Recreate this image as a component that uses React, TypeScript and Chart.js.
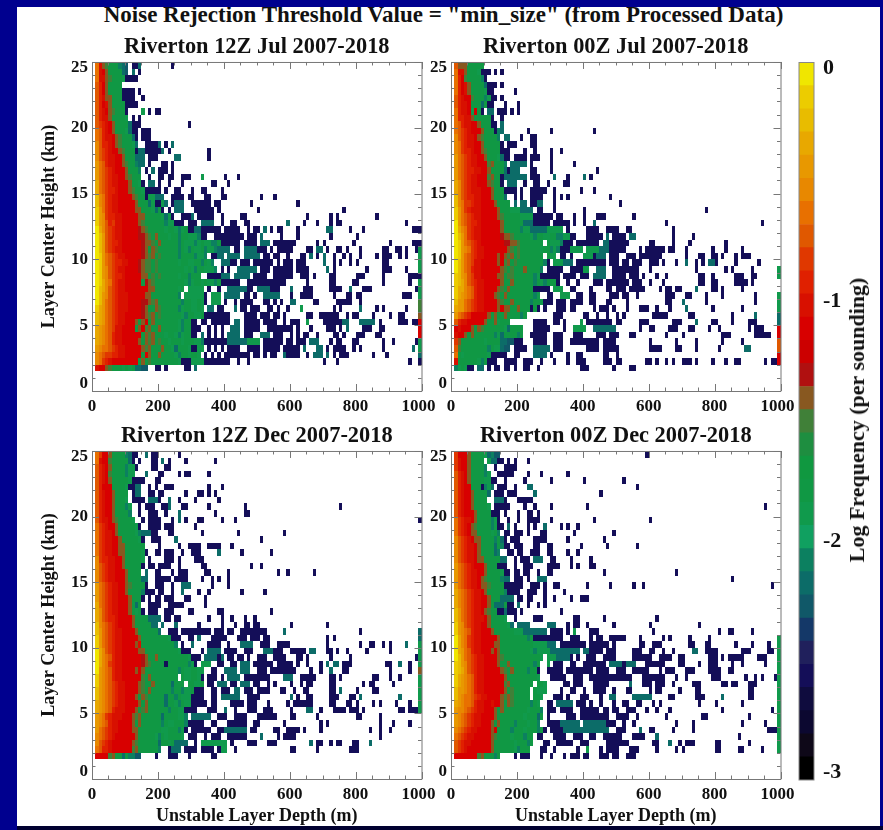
import React, { useEffect, useRef } from "react";
import { Chart, registerables } from "chart.js";

Chart.register(...registerables);

const SERIF = '"Liberation Serif", serif';
const bandColors = ["#000000","#0e0818","#0c0830","#0f0c3e","#140e58","#20205c","#143868","#105868","#0c6c68","#0c8060","#10a060","#109a4c","#109844","#109840","#1e8e40","#408038","#885820","#b01010","#cc0000","#d80000","#d81000","#e02000","#e03800","#e05800","#e87000","#e88800","#e89800","#e8a800","#e8bc00","#eccc00","#f0e600"];
const colorbarTicks = [-3, -2, -1, 0];
const panelTitles = ["Riverton 12Z Jul 2007-2018", "Riverton 00Z Jul 2007-2018", "Riverton 12Z Dec 2007-2018", "Riverton 00Z Dec 2007-2018"];

// Each row runs from the 24.5-25 km bin downward. First token: the level of bins 1, 2, 3...; further tokens: isolated bins.
const jul12z = [
"okgfccc987 12-13 14t 24","okjgcccc87 12t 14","okkgfcccb 10-13","nljgcccc","nljgcccc 9-12 14","nlkggccc 9-12 15","nljkgcccc 10-12 13","nlkjgfccc 10 15b 17 19-20","nlkkgccccb 12 14","nmlkjgcccc8 12-14 29",
"onlkjgcccb 11t 12-13 15-17","onlkkjgfccc8 13 15-17","pnllkjgfcccb 13t 16-19 20t 22 24t","pnmlkjjgfccc9 13 14-15t 16-20 21t 23 35","pnmlkkjjgccc 13-15t 17-19 25-26t 35","qonlkkjjgfcc9 14-15t 17 21-22 24","qonmlkjjjgccc9 16 18t 20-22 24","qonmlkkjjgfccc 17 20-21 23-24 27-29 33b 40 44","ronmlkkjjjgccb 15 17-18t 20 23 27 36-37 41","ronmllkjjjgfccb 16-20 22 25-26 30 33-34 39",
"spomlkkjjjjgfcc 16 17-18b 19-21t 24-27 29-30 34-35 39-40 51 55","spomlkkjjjjjgccc8b 19-20 21b 22t 24 25-27t 30-35 37-38 48 62","tqomlkkjjjjjggcccb8c 21 23 25-27t 31-36 38 50 76","tqpmllkkjjjjjggcccccb8b 24 27-29 30t 32-33 34-36 39 45-46 65 72 74 86","tqpnlmkkjjjjjgfcccccc9bb 25-27 29-31 33-36t 39 42-43 46-47 59t 64 68 72 74-75 95","urpnmlkkjjjjjhgfcccccbccb9bc 29-30 31-32t 33-38 40-44 47 49-50 52t 54 56-57 62 71-72t 78 82 97-99","usqnmlkkjjjjjhhgfcgcccbcc9ccbbb9 33-34 37-45 47-49 51t 57 62 72 80","usqnmllkjjjjjjhggfcgccccc9cbbb9bcbb99c 39-44 46-49 51-53t 55-61 68 70 79 90 97-99","usqnmlkkjjjjjjhgcgfcccccc9cb9cbbc9bb9 38-41t 43-44 46-49t 50-52 54 56-60 65-66 68-69t 71 74-75 77 81 88-89 92-93 95 98 99b","utqonmlkkjjjjjhgfgcfccccc9cccc9bb9 36-37 38-39t 41-44t 46-50t 52-53 55-56 59 63-64 66t 68 70t 73 76 78 81 86 88-90 93 95 99b",
"utqonmllkkjjjhgffcfccccccbccbbcc9cb9 39-41t 42 43 45-47 49-54 56 58-60 62-64 70t 73 75 78 80 88-89 99b","utqpnmlkkjjjjhgffcfccccccccbcb9ccbbb9 39 41 44-49t 51-53 55-56 57-60 62-65 71t 73 83 88-90 95 99b","utqpnmllkjjjjjggcfcfcccccbcc9ccc 35-38 39-41t 43-47t 49-52 55-60 63-65 67 72-73 80-82 88 96 97-98 99","utrpomlkkjjjjjchgfcccccccccb9bccbcbb9c 39 40-44 47-53 54-58 65 72-73 79-80 88 96 99b","usrpnmlkkjjjjjjjggcccccccbc 29-33b 35 38 41-46t 47-48 50-53t 54-56 60t 64-66 72-75 78t 82-84 98 99b","usqpnmlkkkjjjjjggcccccccc9 28-33b 34 36-38b 40-44t 46-47 49 52-56t 60 63-65 66 73 77-78 80-81 94-96 99b","usqonmlkkkjjjjhhgfgccccccc9ccbbcb 34 36-38b 40 43 45-48 52-53 55 57 60-61t 67-68 74-75 76-78 81 99f","trqonmlkkkjjjjhgccgfccccc9bccbbcb 35-36t 38-39 43t 45-46 48-50 53-54 56 59 63b 73 75 81t 86 88 95 99f","srqonmlkkjjjjjhgfgcfccccccb9ccbbc 34-35 36-41 46-49 51-53 55-56 58 65-66 69-74 77 79-80 85 90 93-94 99g","srqonmlkkjjjgcgjcgcccccccb9cc 30 31 33-34 36-41 43-44t 46-50 52-55 58 60-62 65b 70-75 76-77t 81-85t 87 93-95 97-98 99j",
"rqponmkkjjjjcgjfgccgcccccb9cc 30 31-32 35 37 39 42-44t 46-48 49-50 53-60 62 66 71-73 75 77t 82-84 87-88 99j","rqponlkkjjjjjjcgfgcccbccb9bcc 30-31 33t 35 37 39 41-44t 46-48 51-53t 55-57 60 62 64-65 68 73-74 76 80-82 86-87 99j","rqponlkkjjjjjgcgfgcfccbcccbcccbb9 34-35 36-40 41-46t 47-50b 52-54 55-57 59-60 62-64 66-68t 72 74-75 79-80 88 91 98 99b","qpoonmlkkjjjjjgfgcccgccb8cccb 30-31 32-33b 35 37 39 41-44 47-50 52-56 58 59-62 64t 68-69t 71 73-76 79 81 88 97t 99b","ponmmllkkjjjjjcjgccgccccb9ccbccb 34 36 38 40-47 49-50 52 54-55 58t 59-62 65 67-69t 71t 73 75-77 85 89 99t","pomlkjjjjjjjjcgcfccccccccb 27-28 29 30-33b 34-40 41 44 47 70 74 96 99","kjjgfcccbcbc8877 19-20 22 28-29 31t",
];
const jul00z = [
"ngggccccc","okkgcccb 9-11 13 15","oljfcccc9 10","oljkgcccc8 11-13 15","oljkgccccb 11-12 19","nlkjjfccc9b 12-13 15","nlkkjccc8cc 11-12 16 20","olkkjbjcc 9 11-12t 14-16 18 20","ollkkgcccccb 12 15","onlkkjjgcccc 12-13 15t",
"onmlkjjjgcccc9 13 15t 23 30 43","pnmlkkjgfcccc9 16-17t 21 24-25","pomlkkjjgcccccb 15 17-19 24-25","pomllkjjgfcccc 15 16-17 22 25 30 33","qonmlkkjjgcccb8 16-17 19-22 24-26 30","qonmlkkjjjfgccc9 18-22t 24 30 37","qonmllkkjjgcccc 16t 17 18-20t 24-25 30 44","qonmlkkjjjfgccc 15 16-19t 20-22t 24-26 31t 35 40t 42","rpnmlkkjjjgfcc 15 17-19t 22 25-26 29 34-35","rpnmlkkkjjjgccc 16-18 19 21 24-28 31 39 43",
"spnmllkkjjjgccc8 19 21 24-27 31 33 35 48","spommlkkjjjjgcccc 19t 21-22t 24-25 26-27t 31 51","tqomlkkkjjjjjgccc 18-20b 21-24t 26-27 31 40 77","tqonmlkkjjjjjgfccccc 21-24b 25-30 32-33 37 40 44-46 55","uqonmllkjjjjjjgcccccc 22-24t 25-29 31-35 37 40 43t 65 94","urpomlkkjjjjjjgccccc9bb 24-28t 29-33b 35 41-44 47-50 53-54 67","usqomlkkjjjjjjhggfcccccb9ccbbcc99bb 36-37 41-45 47t 49-52 54-55t 67 73","utqonmlkjjjjjjjhhggfccccccc.cbbb9 34-36 38-42 43-44 46-47t 48-53 60-61 67 72 83","utqpomlkkjjjjjjjgfcfccccccbcc9b9 33-35 36-39b 41-44b 45-47t 48-51 52 57 59-64 66-67 71 79 83 88","utqonmlkkjjjjgjgfgcfccccccc.cb 31b 33-34 36 40-42b 43 44-46t 48-50 53-55 57-63 71 75-76 79-80 82 86 88-90",
"usqonmkkjjjjjgjfgcfcccccccc9 29 31-33b 34-36t 38-41 42-46 48-50 52-53 55-57 60-62 64 68 71t 74 76 78-79t 80 86 93","usqonlkkjjjjjjgfcfcccgcccc9 29-33 36-39 40-41b 44-46t 49-54 55-56 60 74 83 85 91 99b","tsqpnmkkjjjjjggcffcccccc9b 27-32 34-37 39-41 43-46t 49-52 54-56 58 62 65 75-76 79 86-88 91-92 99b","tsrpnmlkkjjjjjgccgcccccc9cb9ccc 32 35 38 43-45 47-53 55-57 60 64 75-76 79-80 86-89 91","trrponlkkjjjjgfcgccccccc 25-29 31-33b 36-37 42 47-48 50-52 54-58 63 65-66 68-69 74t 79-80 82 88","trqponlkkjjjgfcgcccccccc9b 29-30 33-35b 38-39 42-43 48-50 52-53 56 65-67 71-72 77 82 92 99b","sqqonmlkkjjjjgfccgccccc9ccb 28-30 32-34 36-39 42-43 47-48 53 65-66 70t 77 92 99b","rqqonmlkkjjjjgjggccgccccc 24 26 28 32-34 36-37 43 45-47 49 53 57-59 62 66 71t 79 88 99b","qonmljjjjjgcgccgcccc9c 31-33 40-41 44 47 50 52 61-65 72-73 85 92t 99t","nlkkjjjjjgccgbccc 25-28 31-32 34 39b 41-48 50-51 57 58-59 67-69 74t 79-80 85 90-92 99t",
"jkjjjgcgfccccccb8cccc 25-29 34 37-40b 43-49t 57 60-61 66-68 72-73 78 81 90 92-94 99j","kjjgcgcccccc9b8cccc9c 24-28 31-33 37-39 44-46 48-50 54-55 65 70 82-84 92-96 99j","mgcccccccbcccc8877 19-21 25-28 31-33 36-44 46-49 60 68 74 82 88 99n","nfcccccccc9cbb877 19 20-22 25-29t 31-33 41-44 46-49 50 60-63 68-69 74 81 89-90t 99n","ocbcccccccb8 12-16 19-20 25-28t 30 35 38-39 46-47 50 99j","kccccccb9c 11-13 16-19 22-24 27 31 35 38-40 46-48 50-51 59-60 62 65 67 70-72 74 79 83 86-87 95 97-98 99j","9bcb 5-6 8-9t 11 13-14 16-17 19 22-23 26 39-41 49 54-55",
];
const dec12z = [
"omjjgcccc98 12-13 16t 18-19 26","okjjfccccc8 12 14 18-19 21t 23 28 37","nlkjgcccc9bb 13 18-19 22-23","nlkjfcccc9bb 16t 20-21 26 28-29 35","nlkjgcccccb 12-15 19-20","nljjjccccb 11 12 13-14t 17 19 22-24 35 39","nlkjjgcccc 12 13-14t 17-18 20-21 28 32-33 35 37","nlkjjgcccb 12-15 17-19t 20 23t 26 31 38","nlkjjgccc9b 14 16-18 21-22 23t 27-28 35 46 75","nlkjjgcccc9 14 17-19 22 26t 37 46-47",
"nlkkjgfccccb 15 17-20 24 26t 28 32-33 39 43 99","omlkjjgcccccb 14 17-20 22-24 31","omlkkjgcccccb9 15-17t 18-19 23-24 33 44 58","omlkkjjgcccccb 15 18-20 25t 51","omlkkjjggcccccc 20 26 29-32 35-38 42","omlkkjjggcccccb 16 19-20 22-24 27 30-32 38t 45 54","pmllkkjjgcccccb 17 22-24 26 31-33","pnmlkkjjgccccc 15 17-18 20-23 26 33-34 48 51","pnmlkkjjjgcccc 16t 19-20 24 26-28 34-35 41 56 59 67","pnmlkkjjjgcccc 15-16t 19-23 25-28 33 36 38 41",
"qonmlkkjjgfcccc 16 19-21 24 27-29t 36 41","qonmlkkjjgcccc9 16-18 20-21 24 27t 32 35 45 52","qonmlkkjjjgccc 15 17 19-20 22-24 28-29 34","ronmlkkjjjgccc 13t 17-20 23-27 34","rpnmlkkjjjgcbc 15 17-19 22-24 29-30 38-39 54","rpnmllkjjjjgcccc 17-20t 22-23 25-26 35 39 42 46 49","sponmlkjjjjgccccc 18-19t 21t 25t 32 39 43 46-47 49-50 60 71","sqonmlkkjjjjgcccccc 20t 23-25 27-34 35 37-39 41-42 45-50 51-52 58t 81 99t","tqonmlkkjjjjjgccccccccb 24-26 29-30 32t 36-40 44-46 48-50 52-53 71 73 99t","tqonmlkkjjjjgkcccccccccc9 27 30t 35-38 41 45-48t 51-53 56-59 71 81 84-85 88 90 95t 99b",
"urpnmlkkjjjjjggccccccccccb 27-29 33 35-38t 40-43 46-48 52-54t 55-57 60-64 66-67t 71-72 74 77 83 90 99b","urponlkkjjjjjjhgccgcccccccccb 30-32 34-37t 38 39t 41-42 44-45 47 50-52 55-58 62-63 65 72 78 98 99b","urpomlkkjjjjjjhgfcccc4cccccc9b 31 33-35b 38-39 42-43 45-47t 49-54 56-60 62 65 69 71t 73-74t 76-78 89-90 93t 96 99b","uqponlkkjjjjgjgcccccccccc9cbbcc 32-33b 36-37 40-43t 45-47t 50-52 54-61 66 69 72t 76-77 90 96 99g","tqponlkkjjjjjjfcgcccccccc.cbbccb 33 35-37 39 41-44t 46-49 50-53 58-60t 63-67 72-73 75 85-86 90 93 99b","tqponmlkkjjjjgfccgccccc8ccc.ccbbc 35-36 38-40t 42-43 45-47t 49-50 53 55 60 63 65-66 72-73 82 84-85 91 99b","sqponmlkkjjjjgfcgcccccc9cc9bbc 31-33 36-37 39-41 43-44t 46-48 50-53 57-58 61 64-65 72-73 75t 80 85-86 99b","sqponmlkkjjjgcgfccccc8cc9cbbb 30-33 36-37 39-41t 42-44t 47-50 60t 62 65-66 72-74 78-79 81t 93t 99b","rqponmlkkjjjjgcgccccc8ccb9cbb 30-34 36-37 42-45 47-49 53 59 61-66 72-73 77-78 80 85 87 92 96 99b","rqponlkkkjjjgcfgcccccc9ccbb 28 29-31 35-37 40t 43 47-49 52-54 60 65-66t 69 73-76 78-80 82 93-94 96-98 99b",
"qpomlkkkjjjgfgcccccc8ccccbb9 30-35t 38-40 43-46 50-55 60-61 68 80-81 87","qponlkkjjjjgcgcccccc9cbbccc9 29 30-33 36-37 41-46 49-50 58 69 71 87 91 96","qonmlkkjjjjggcccccccbbccc9b 28 30-35 38-39 40-46t 48-49 55-56 59-62 64 69 84 87 90","ponmlkjjjjjjgcccccb9cbccccb 29-31 34 36-38 41-46 51t 56 58-61 87","pnmlkjjjjjjgfcccccc8ccbc 25-28t 31 33-40b 42 47-49 53-55 66t 68-69 72 74-75 79-80 84t","onllkjjjjjjfgcccccc9 23 24-26t 28-31 33-36 38 39-40b 43 60-61 68 78-80","jjjjfgcc8c9977 19 23-25 29 36-37",
];
const dec00z = [
"mjjjgccccb8977 59","mkjjgcccc.b8 13t 14-15 17 19 23","mkjjgcccc9 13 16-19","nlkjgcccc9b 14-15 16-18 23 27 35","nlkjgccccbb 12-13 16 22 30 40 52","nlkjjcccc9b 9 12t 14-16 19 23-24t 56","nlkjjgcccc 11t 13-15 17-19 25t 45","nlkjjgcccc 13-15t 16 20-24","nlkjjgccccb 13-14 15-17 22 25 30 41 95","nlkjjjgcccc9 12-14 16 20 23-24 26",
"omlkkjgcccc9b8 14 17 20 23-26 30 43 60","omlkjgfcccc9b 14-15 17t 19 23 25 28t 33 35 38","omlkjggccccbc9 16-17 19-21 23 27-28 37 49","pnmlkjggcccc9c8 16 18-20 25-28 35 46","pnmlkkjgcccc8c9 16-17 19-21 25-26 29-30 39 47 56","pnmlkkjgccccc9 13t 17-18 20-21 24-26 29-30 35 38","pnmlkkjggccccc9 15-16t 19 21-23 25-27t 30-31 36 42","qonmlkjjjgcccc8 14-16 19 22-24 29-32 36 38 42-43","qonmlkkjjgccccb 16-17 19-20 22-23 26 29-30 46 68","qonmlkkjgfcccc9 16-17t 19-21 23 26-28t 85",
"qonmlkkjggfcccc8 16-18 19-21 24-26 28 31-32 41 48 55 58 97","rponmlkkjgccccc9 17-20 23-25 28 34","rponmlkkjjgcccc9 15-18t 20-21 23-24 28 31 36 39-41","rponmlkkjjgccc9c8 13-15t 17-18 20t 23 26 28","sqonmlkkjgfcccb8 14-15 17-19 21 33","sqonmlkkkjgccccb 19 25-27 37-38 46 62","tqpnmlkkjjgcccccb8 20-23t 29-31t 35 37-38 41 49 60 75","tqponlkkjjjgccccccbbb 22-28t 30-33 35 37b 42-44 61 81 84-85 91","urpomlkkjjjjjgcccccccc9c 25-26 27-33 36-38 42 44-45 48-52 57 64 66 72 78 99b","urpomlkkjjjjggcccccccccc 25-28b 29-31t 33-38 39-40 42-47 49 57-58 61-63 72-73 77-78 86 91 96 99b",
"urqonlkkjjjgjgcccccccccb9 26-29b 30-33t 34-38t 40-41t 42-45 47-49 55-57 60-61 64 67 73-74t 77-80 88-90 96-97 99b","usqonmlkkjjjjgfcccccccccccb 29-31b 32-35t 36 38 41-43 46-49 55-60 63-66 69-70 78-80 82 84-88 93-95 99b","tsqpnmlkkjjjjgccgccccccc9c 29b 31-33 36-37 40-46 48-51t 52 53-55t 59-64 69-70 75 78-80 85 88 95 99b","tsrpnmlkkjjjjjgfcgcccc9ccc 26 29-33 35-42 44-47 50-52 55-59 63 65-67 71-73 78-81 84-85 99b","trqponlkkjjjjjjgcccccccccb 30-34 37-39 42-52 53-54 58-64 68 71 79-81 89 92 94 98 99b","trqponlkkjjjjjjfgccccccc.ccb 34-35 37-39 43-47 54t 58-60 62-64 67 73-75 82-83 85-86 90-92 99b","sqqponlkkjjjjjjgcfccccc.cbbb 33 36-37 40 43-46 49 53-54 60 62-63 69 74-75 90-91 99b","sqpoonmlkkjjjjgfgfccccc.ccb 31-33 35 39-41 45 48-49t 55-60t 66-67 74-76 82t 90-91 99b","rqpoonlkkjjkjjgcgfccccc9cb 29-30 32-36t 38-40 42 45 49 52-53 56-57 61 63 75 80 88 99b","qpponmlkkjjjgcgcccccccbccc9 29-31 33-36 39-44 46-47 49-50 53-55 59 62 66 82 97 99b",
"qponmlkkjjjjgccccccccbccc8c 29 35-37 39-47 50-53 56 65 76-77 90 99b","qponmlkkjjjgcgcccc9cccbcc9 29-32 33-38t 40-46t 47-49 52 55 68 73 88 95 99b","ponmlkkjjjjgjcccc9cccbccc9c 28 30-33 34-37t 38-47t 50-52 57t 60-61 67 73 96-98 99b","onmlkkjjjjjgfccccbccc9cc 26-27 31-34 37-39 42-43 46-51 55-58 62t 87 99b","nmlkkjjjjjjgccccccbccc9c 28-29 32-36 39-41 47-53 61-62 66t 69 71-73 80-81 90 99b","nmlkjjjjjjjgccccccb9ccc 27-28 31 38 41b 45 47-50 54-56 62 68 70 80-81 87-88 94 99b","jjjjjjjfgccc9c 19 21-23 27 30 34 36-38 40-41 45-47 49-50 53-55",
];
const panelRows = [jul12z, jul00z, dec12z, dec00z];

const levelToLog = (lvl: number) => -3 + ((lvl + 0.5) * 3) / 31;
const logToLevel = (v: number) => Math.min(30, Math.max(0, Math.floor(((v + 3) * 31) / 3)));

function decode(rows: string[]) {
  const pts: { x: number; y: number; v: number }[] = [];
  rows.forEach((row, k) => {
    const cells = new Map<number, number>();
    const [prefix, ...tokens] = row.split(" ");
    [...prefix].forEach((ch, i) => {
      if (ch !== ".") cells.set(i + 1, parseInt(ch, 31));
    });
    tokens.forEach((tok) => {
      const m = tok.match(/^(\d+)(?:-(\d+))?([a-z]?)$/);
      if (!m) return;
      const a = +m[1];
      const b = m[2] ? +m[2] : a;
      const lvl = m[3] === "t" ? 8 : m[3] ? parseInt(m[3], 31) : 4;
      for (let c = a; c <= b; c++) cells.set(c, lvl);
    });
    cells.forEach((lvl, c) => pts.push({ x: c * 10 + 5, y: 24.75 - k * 0.5, v: levelToLog(lvl) }));
  });
  return pts;
}

const boldFont = (size: number) => ({ family: SERIF, size, weight: "bold" as const });

const shift = (scale: any, label: string, dx: number, dy: number) => {
  for (const it of scale.getLabelItems()) {
    if (it.label === label) {
      it.options.translation = [it.options.translation[0] + dx, it.options.translation[1] + dy];
    }
  }
};

const heatPlugin = {
  id: "heat",
  beforeDatasetsDraw(chart: any) {
    const { ctx, scales } = chart;
    const { x, y } = scales;
    for (const p of chart.data.datasets[0].data) {
      const x0 = Math.round(x.getPixelForValue(p.x - 5));
      const x1 = Math.round(x.getPixelForValue(p.x + 5));
      const y0 = Math.round(y.getPixelForValue(p.y + 0.25));
      const y1 = Math.round(y.getPixelForValue(p.y - 0.25));
      ctx.fillStyle = bandColors[logToLevel(p.v)];
      ctx.fillRect(x0, y0, x1 - x0, y1 - y0);
    }
  },
};

const framePlugin = {
  id: "frame",
  beforeDraw(chart: any) {
    shift(chart.scales.y, "25", 0, 6);
    shift(chart.scales.y, "0", 0, -7);
    shift(chart.scales.x, "1000", -3, 0);
  },
  afterDraw(chart: any) {
    const { ctx, chartArea: a, scales } = chart;
    ctx.save();
    ctx.strokeStyle = "#777777";
    ctx.lineWidth = 1;
    ctx.beginPath();
    for (const t of scales.y.ticks) {
      const py = Math.round(scales.y.getPixelForValue(t.value)) + 0.5;
      const len = t.value % 5 === 0 ? 7 : 3.5;
      ctx.moveTo(a.left, py); ctx.lineTo(a.left + len, py);
      ctx.moveTo(a.right, py); ctx.lineTo(a.right - len, py);
    }
    for (const t of scales.x.ticks) {
      const px = Math.round(scales.x.getPixelForValue(t.value)) + 0.5;
      const len = t.value % 200 === 0 ? 7 : 3.5;
      ctx.moveTo(px, a.bottom); ctx.lineTo(px, a.bottom - len);
      ctx.moveTo(px, a.top); ctx.lineTo(px, a.top + len);
    }
    ctx.rect(a.left + 0.5, a.top + 0.5, a.right - a.left, a.bottom - a.top);
    ctx.stroke();
    ctx.restore();
  },
};

const barPlugin = {
  id: "barFrame",
  beforeDraw(chart: any) {
    shift(chart.scales.y, "0", 0, 6);
    shift(chart.scales.y, "-3", 0, -8);
  },
  afterDraw(chart: any) {
    const { ctx, chartArea: a } = chart;
    ctx.save();
    ctx.strokeStyle = "#888888";
    ctx.strokeRect(a.left, a.top, a.right - a.left, a.bottom - a.top);
    ctx.restore();
  },
};

const geometry = [
  { left: 20, top: 30, h: 411, plotH: 329, yTitle: true, xTitle: false },
  { left: 379, top: 30, h: 411, plotH: 329, yTitle: false, xTitle: false },
  { left: 20, top: 419, h: 410, plotH: 328, yTitle: true, xTitle: true },
  { left: 379, top: 419, h: 410, plotH: 328, yTitle: false, xTitle: true },
];

export default function App() {
  const refs = useRef<(HTMLCanvasElement | null)[]>([]);
  const barRef = useRef<HTMLCanvasElement | null>(null);

  useEffect(() => {
    document.body.style.margin = "0";
    const charts: Chart[] = [];
    panelRows.forEach((rows, idx) => {
      const g = geometry[idx];
      charts.push(
        new Chart(refs.current[idx]!, {
          type: "scatter",
          data: { datasets: [{ data: decode(rows), pointRadius: 0, showLine: false }] },
          plugins: [heatPlugin, framePlugin],
          options: {
            responsive: false,
            animation: false,
            events: [],
            layout: { padding: { left: 0, right: 25.5, top: 0, bottom: 0 } },
            plugins: {
              legend: { display: false },
              tooltip: { enabled: false },
              title: {
                display: true,
                text: panelTitles[idx],
                fullSize: false,
                color: "#111111",
                font: boldFont(22.4),
                padding: { top: 3.5, bottom: 1.6 },
              },
            },
            scales: {
              x: {
                type: "linear",
                min: 0,
                max: 1000,
                grid: { display: false, drawTicks: false },
                border: { display: false },
                ticks: {
                  stepSize: 50,
                  autoSkip: false,
                  maxRotation: 0,
                  padding: 5,
                  color: "#111111",
                  font: boldFont(17),
                  callback: (v: any) => (v % 200 === 0 ? String(v) : ""),
                },
                title: {
                  display: g.xTitle,
                  text: "Unstable Layer Depth (m)",
                  color: "#111111",
                  font: boldFont(18),
                  padding: { top: 0, bottom: 2 },
                },
                afterFit: (s: any) => { s.height = g.h - 32 - g.plotH; },
              },
              y: {
                type: "linear",
                min: 0,
                max: 25,
                grid: { display: false, drawTicks: false },
                border: { display: false },
                ticks: {
                  stepSize: 1,
                  autoSkip: false,
                  padding: 4,
                  color: "#111111",
                  font: boldFont(17),
                  callback: (v: any) => (v % 5 === 0 ? String(v) : ""),
                },
                title: {
                  display: g.yTitle,
                  text: "Layer Center Height (km)",
                  color: "#111111",
                  font: boldFont(18.2),
                  padding: { top: 18, bottom: 0 },
                },
                afterFit: (s: any) => { s.width = 72; },
              },
            },
          } as any,
        })
      );
    });

    charts.push(
      new Chart(barRef.current!, {
        type: "bar",
        data: {
          labels: [""],
          datasets: bandColors.map((c, i) => ({
            data: [[-3 + (i * 3) / 31, -3 + ((i + 1) * 3) / 31]] as any,
            backgroundColor: c,
            borderWidth: 0,
            grouped: false,
            barPercentage: 1,
            categoryPercentage: 1,
          })),
        },
        plugins: [barPlugin],
        options: {
          responsive: false,
          animation: false,
          events: [],
          layout: { padding: { left: 9, right: 6, top: 32.5, bottom: 35 } },
          plugins: { legend: { display: false }, tooltip: { enabled: false } },
          scales: {
            x: { display: false },
            y: {
              position: "right",
              min: -3,
              max: 0,
              grid: { display: false, drawTicks: false },
              border: { display: false },
              afterBuildTicks: (s: any) => { s.ticks = colorbarTicks.map((value) => ({ value })); },
              ticks: {
                padding: 9,
                color: "#111111",
                font: boldFont(22),
                callback: (v: any) => String(v),
              },
              afterFit: (s: any) => { s.width = 60; },
            },
          },
        } as any,
      })
    );
    return () => charts.forEach((c) => c.destroy());
  }, []);

  return (
    <div style={{ position: "absolute", left: 0, top: 0, width: 883, height: 830, background: "#00008f", overflow: "hidden", filter: "blur(0.5px)" }}>
      <div style={{ position: "absolute", left: 17, top: 7, width: 863, height: 819, background: "#ffffff" }} />
      <div style={{ position: "absolute", left: 17, top: 826, width: 866, height: 4, background: "#000030" }} />
      <div style={{ position: "absolute", left: 12, top: 3, width: 863, textAlign: "center", font: `bold 23px ${SERIF}`, color: "#111111", whiteSpace: "nowrap", lineHeight: "24px", height: 24, clipPath: "inset(4px -100px -100px -100px)" }}>
        {'Noise Rejection Threshold Value = "min_size" (from Processed Data)'}
      </div>
      {geometry.map((g, i) => (
        <canvas
          key={i}
          ref={(el) => { refs.current[i] = el; }}
          width={427}
          height={g.h}
          style={{ position: "absolute", left: g.left, top: g.top, width: 427, height: g.h }}
        />
      ))}
      <canvas ref={barRef} width={90} height={785} style={{ position: "absolute", left: 790, top: 30, width: 90, height: 785 }} />
      <div style={{ position: "absolute", left: 857, top: 420, width: 0, height: 0 }}>
        <div style={{ position: "absolute", transform: "translate(-50%,-50%) rotate(-90deg)", whiteSpace: "nowrap", font: `bold 22px ${SERIF}`, color: "#111111" }}>
          Log Frequency (per sounding)
        </div>
      </div>
    </div>
  );
}
